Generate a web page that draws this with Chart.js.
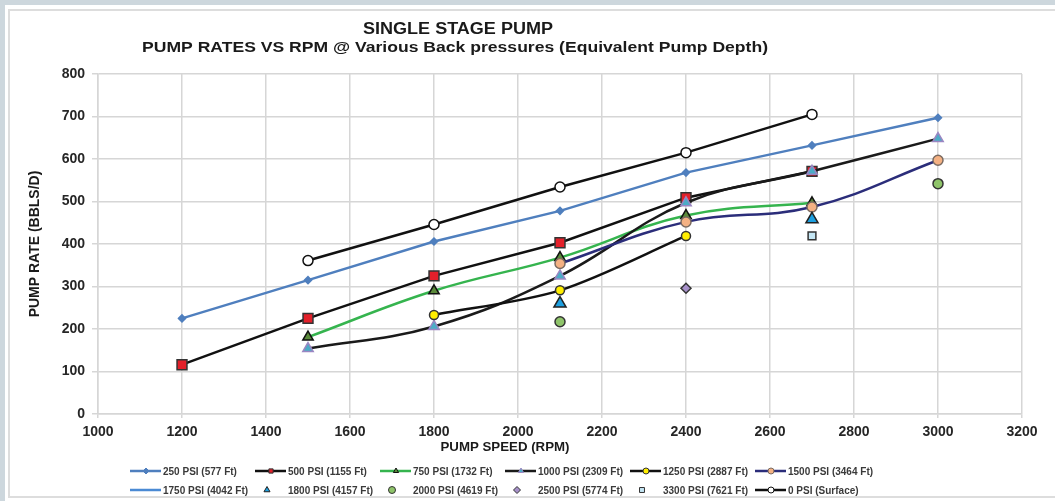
<!DOCTYPE html>
<html>
<head>
<meta charset="utf-8">
<script src="https://cdn.jsdelivr.net/npm/chart.js@4.4.1/dist/chart.umd.min.js"></script>
<style>
  html, body { margin: 0; padding: 0; background: #fff; }
  #wrap { width: 1055px; height: 501px; }
</style>
</head>
<body>
<div id="wrap"><canvas id="pumpChart" width="1055" height="501"></canvas></div>
<script>
// pump speed (RPM) for every column of readings
const rpm = [1200, 1500, 1800, 2100, 2400, 2700, 3000];

// pump rate (BBLS/D) per back pressure, null = no reading
const psi250  = [225, 315, 406, 478, 568, 632, 697];
const psi500  = [116, 225, 325, 403, 509, 571, null];
const psi750  = [null, 181, 290, 368, 467, 497, null];
const psi1000 = [null, 154, 206, 325, 497, 571, 648];
const psi1250 = [null, null, 233, 291, 419, null, null];
const psi1500 = [null, null, null, 354, 452, 487, 597];
const psi1750 = [null, null, null, null, null, null, null];
const psi1800 = [null, null, null, 260, null, 458, null];
const psi2000 = [null, null, null, 217, null, null, 542];
const psi2500 = [null, null, null, null, 296, null, null];
const psi3300 = [null, null, null, null, null, 419, null];
const psi0    = [null, 361, 446, 534, 615, 705, null];

const seriesLabels = [
    '250 PSI (577 Ft)', '500 PSI (1155 Ft)', '750 PSI (1732 Ft)',
    '1000 PSI (2309 Ft)', '1250 PSI (2887 Ft)', '1500 PSI (3464 Ft)',
    '1750 PSI (4042 Ft)', '1800 PSI (4157 Ft)', '2000 PSI (4619 Ft)',
    '2500 PSI (5774 Ft)', '3300 PSI (7621 Ft)', '0 PSI (Surface)'
];

const xTicks = [1000, 1200, 1400, 1600, 1800, 2000, 2200, 2400, 2600, 2800, 3000, 3200];
const yTicks = [0, 100, 200, 300, 400, 500, 600, 700, 800];

const toPoints = (values) => rpm.map((x, i) => ({ x: x, y: values[i] }));

// look of each series: line colour (null = markers only), marker
const looks = [
    { values: psi250,  line: '#4f7fbe', style: 'rectRot',  r: 3.5, fill: '#4f7fbe', edge: '#4f7fbe', tension: 0 },
    { values: psi500,  line: '#111111', style: 'rect',     r: 7,   fill: '#e3202a', edge: '#333333', tension: 0 },
    { values: psi750,  line: '#35b44e', style: 'triangle', r: 6,   fill: '#5a8a3a', edge: '#111111', tension: 0.4 },
    { values: psi1000, line: '#1a1a1a', style: 'triangle', r: 6,   fill: '#4bacc6', edge: '#9a86c2', tension: 0.4 },
    { values: psi1250, line: '#111111', style: 'circle',   r: 4.5, fill: '#ffee00', edge: '#333333', tension: 0.3 },
    { values: psi1500, line: '#2b2d7a', style: 'circle',   r: 5,   fill: '#f4b183', edge: '#7a6a60', tension: 0.4 },
    { values: psi1750, line: '#4a8ad4', style: 'circle',   r: 0,   fill: '#4a8ad4', edge: '#4a8ad4', tension: 0 },
    { values: psi1800, line: null,      style: 'triangle', r: 7,   fill: '#1c9fe0', edge: '#222222', tension: 0 },
    { values: psi2000, line: null,      style: 'circle',   r: 5,   fill: '#8fc46a', edge: '#333333', tension: 0 },
    { values: psi2500, line: null,      style: 'rectRot',  r: 5,   fill: '#a690c9', edge: '#333333', tension: 0 },
    { values: psi3300, line: null,      style: 'rect',     r: 5.5, fill: '#c4e6f4', edge: '#333333', tension: 0 },
    { values: psi0,    line: '#111111', style: 'circle',   r: 5,   fill: '#ffffff', edge: '#111111', tension: 0 }
];

const datasets = looks.map((s, i) => ({
    label: seriesLabels[i],
    data: toPoints(s.values),
    showLine: s.line !== null,
    borderColor: s.line || s.edge,
    borderWidth: 2.5,
    tension: s.tension,
    pointStyle: s.style,
    pointRadius: s.r,
    pointBackgroundColor: s.fill,
    pointBorderColor: s.edge,
    pointBorderWidth: 1.5,
    order: looks.length - i
}));

// frame, titles and the Excel-like grid legend
const decorations = {
    id: 'decorations',
    beforeDraw(chart) {
        const c = chart.ctx;
        c.save();
        c.fillStyle = '#ffffff';
        c.fillRect(0, 0, chart.width, chart.height);
        c.fillStyle = '#cdd7dd';
        c.fillRect(0, 0, chart.width, 5);
        c.fillRect(0, 0, 5, chart.height);
        c.strokeStyle = '#dddddd';
        c.lineWidth = 2;
        c.strokeRect(9, 10, chart.width, 487);
        c.restore();
    },
    afterDraw(chart) {
        const c = chart.ctx;
        c.save();
        c.fillStyle = '#1a1a1a';
        c.textAlign = 'center';
        c.textBaseline = 'middle';
        const fitText = (text, font, cx, cy, width) => {
            c.font = font;
            const k = width / c.measureText(text).width;
            c.save();
            c.translate(cx, cy);
            c.scale(k, 1);
            c.fillText(text, 0, 0);
            c.restore();
        };
        fitText('SINGLE STAGE PUMP', 'bold 16px "Liberation Sans", Arial, sans-serif', 458, 30, 190);
        fitText('PUMP RATES VS RPM @ Various Back pressures (Equivalent Pump Depth)',
            'bold 15px "Liberation Sans", Arial, sans-serif', 455, 48, 626);
        fitText('PUMP SPEED (RPM)', 'bold 13px "Liberation Sans", Arial, sans-serif', 505, 447, 129);

        // legend: 6 columns, 2 rows
        c.textAlign = 'left';
        c.font = 'bold 10px "Liberation Sans", Arial, sans-serif';
        chart.data.datasets.forEach((ds, i) => {
            const x0 = 130 + (i % 6) * 125;
            const y = 471 + Math.floor(i / 6) * 19;
            if (ds.showLine) {
                c.strokeStyle = ds.borderColor;
                c.lineWidth = 2.5;
                c.beginPath();
                c.moveTo(x0, y);
                c.lineTo(x0 + 31, y);
                c.stroke();
            }
            if (ds.pointRadius > 0) {
                c.fillStyle = ds.pointBackgroundColor;
                c.strokeStyle = ds.pointBorderColor;
                c.lineWidth = 1;
                Chart.helpers.drawPoint(c, {
                    pointStyle: ds.pointStyle,
                    radius: ds.showLine ? 3 : 3.5,
                    rotation: 0,
                    borderWidth: 1
                }, ds.showLine ? x0 + 16 : x0 + 12, y);
            }
            c.fillStyle = '#3a3a3a';
            c.fillText(ds.label, x0 + 33, y + 1);
        });
        c.restore();
    }
};

const gridGray = '#d6d6d6';
const tickFont = { family: '"Liberation Sans", Arial, sans-serif', size: 14, weight: 'bold' };
const plainNumber = (v) => String(v);

new Chart(document.getElementById('pumpChart'), {
    type: 'line',
    data: { datasets: datasets },
    plugins: [decorations],
    options: {
        responsive: false,
        animation: false,
        devicePixelRatio: 1,
        layout: { padding: { left: 0, top: 74, right: 33, bottom: 0 } },
        plugins: {
            legend: { display: false },
            tooltip: { enabled: false },
            title: { display: false }
        },
        scales: {
            x: {
                type: 'linear',
                min: xTicks[0],
                max: xTicks[xTicks.length - 1],
                afterBuildTicks: (scale) => { scale.ticks = xTicks.map(v => ({ value: v })); },
                afterFit: (scale) => { scale.height = 87; },
                grid: { color: gridGray, lineWidth: 1.5, tickLength: 4, tickColor: gridGray },
                border: { color: gridGray, width: 1.5 },
                ticks: { font: tickFont, color: '#262626', padding: 6, maxRotation: 0, autoSkip: false, callback: plainNumber }
            },
            y: {
                min: yTicks[0],
                max: yTicks[yTicks.length - 1],
                afterBuildTicks: (scale) => { scale.ticks = yTicks.map(v => ({ value: v })); },
                afterFit: (scale) => { scale.width = 98; },
                grid: { color: gridGray, lineWidth: 1.5, tickLength: 6, tickColor: gridGray },
                border: { color: gridGray, width: 1.5 },
                ticks: { font: tickFont, color: '#262626', padding: 7, callback: plainNumber },
                title: {
                    display: true,
                    text: 'PUMP RATE (BBLS/D)',
                    color: '#1a1a1a',
                    font: { family: '"Liberation Sans", Arial, sans-serif', size: 14, weight: 'bold' },
                    padding: { top: 27, bottom: 0 }
                }
            }
        }
    }
});
</script>
</body>
</html>
